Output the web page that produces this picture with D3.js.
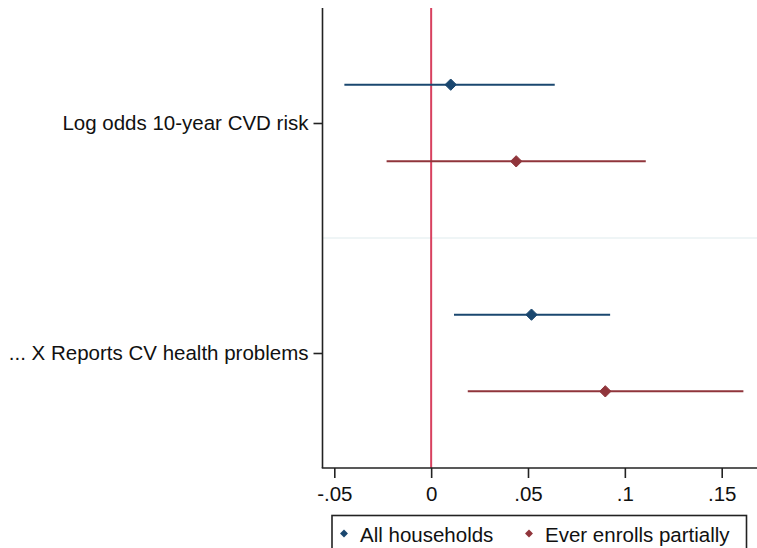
<!DOCTYPE html>
<html><head><meta charset="utf-8">
<script src="https://cdn.jsdelivr.net/npm/d3@7"></script>
<style>body{margin:0;background:#fff}svg{display:block}</style>
</head><body>
<script>
const categories = ["Log odds 10-year CVD risk", "... X Reports CV health problems"];
const seriesNames = ["All households", "Ever enrolls partially"];
const seriesColors = ["#1a476f", "#90353b"];
// [estimate, lower CI, upper CI] per category
const allHouseholds = [[0.0101, -0.0448, 0.0638], [0.0518, 0.0118, 0.0924]];
const everEnrolls   = [[0.0439, -0.0230, 0.1108], [0.0899, 0.0189, 0.1612]];
const xTicks = [-0.05, 0, 0.05, 0.1, 0.15];
const xTickLabels = ["-.05", "0", ".05", ".1", ".15"];

const W = 757, H = 548;
const svg = d3.select("body").append("svg").attr("width", W).attr("height", H);
const font = "'Liberation Sans', Arial, sans-serif";
const fs = 20.5;

const axL = 322.5, axB = 468, axT = 8, axR = 757;
const x = d3.scaleLinear().domain([-0.05, 0.15]).range([334.3, 721.7]);
const y = d3.scaleLinear().domain([0.5, 2.5]).range([axT, axB]);
const offsets = [-1/6, 1/6];
const series = [allHouseholds, everEnrolls];

// separator between groups
svg.append("line").attr("x1", axL).attr("x2", axR).attr("y1", y(1.5)).attr("y2", y(1.5))
  .attr("stroke", "#eaf2f3").attr("stroke-width", 1.5);

// zero reference line
svg.append("line").attr("x1", x(0)).attr("x2", x(0)).attr("y1", axT).attr("y2", axB)
  .attr("stroke", "#d8415f").attr("stroke-width", 2);

// CIs and points
series.forEach((s, si) => {
  const g = svg.append("g");
  s.forEach((d, ci) => {
    const yy = y(ci + 1 + offsets[si]);
    g.append("line").attr("x1", x(d[1])).attr("x2", x(d[2])).attr("y1", yy).attr("y2", yy)
      .attr("stroke", seriesColors[si]).attr("stroke-width", 2);
    g.append("path").attr("d", d3.symbol(d3.symbolDiamond2, 82)())
      .attr("transform", `translate(${x(d[0])},${yy})`).attr("fill", seriesColors[si])
      .attr("stroke", seriesColors[si]).attr("stroke-width", 1).attr("stroke-linejoin", "round");
  });
});

// axes
const xAxis = d3.axisBottom(x).tickValues(xTicks).tickFormat((d, i) => xTickLabels[i])
  .tickSize(10).tickSizeOuter(0).tickPadding(8);
const gx = svg.append("g").attr("transform", `translate(0,${axB})`).call(xAxis);
gx.select(".domain").remove();
gx.append("line").attr("x1", axL - 0.75).attr("x2", axR).attr("y1", 0).attr("y2", 0)
  .attr("stroke", "#222").attr("stroke-width", 1.6);
gx.selectAll(".tick line").attr("stroke", "#222").attr("stroke-width", 1.6);
gx.selectAll(".tick text").attr("font-family", font).attr("font-size", fs).attr("fill", "#111");

const yAxis = d3.axisLeft(y).tickValues([1, 2]).tickFormat((d) => categories[d - 1])
  .tickSize(9).tickSizeOuter(0).tickPadding(5);
const gy = svg.append("g").attr("transform", `translate(${axL},0)`).call(yAxis);
gy.select(".domain").remove();
gy.append("line").attr("x1", 0).attr("x2", 0).attr("y1", axT).attr("y2", axB)
  .attr("stroke", "#222").attr("stroke-width", 1.6);
gy.selectAll(".tick line").attr("stroke", "#222").attr("stroke-width", 1.6);
gy.selectAll(".tick text").attr("font-family", font).attr("font-size", fs).attr("fill", "#111");

// legend
const lg = svg.append("g");
lg.append("rect").attr("x", 332).attr("y", 515.5).attr("width", 414.5).attr("height", 50)
  .attr("fill", "#fff").attr("stroke", "#222").attr("stroke-width", 1.6);
const legX = [344, 529];
seriesNames.forEach((n, i) => {
  lg.append("path").attr("d", d3.symbol(d3.symbolDiamond2, 40)())
    .attr("transform", `translate(${legX[i]},${533.5})`).attr("fill", seriesColors[i]);
  lg.append("text").attr("x", legX[i] + 16).attr("y", 541.5).text(n)
    .attr("font-family", font).attr("font-size", fs).attr("fill", "#111");
});
</script>
</body></html>
